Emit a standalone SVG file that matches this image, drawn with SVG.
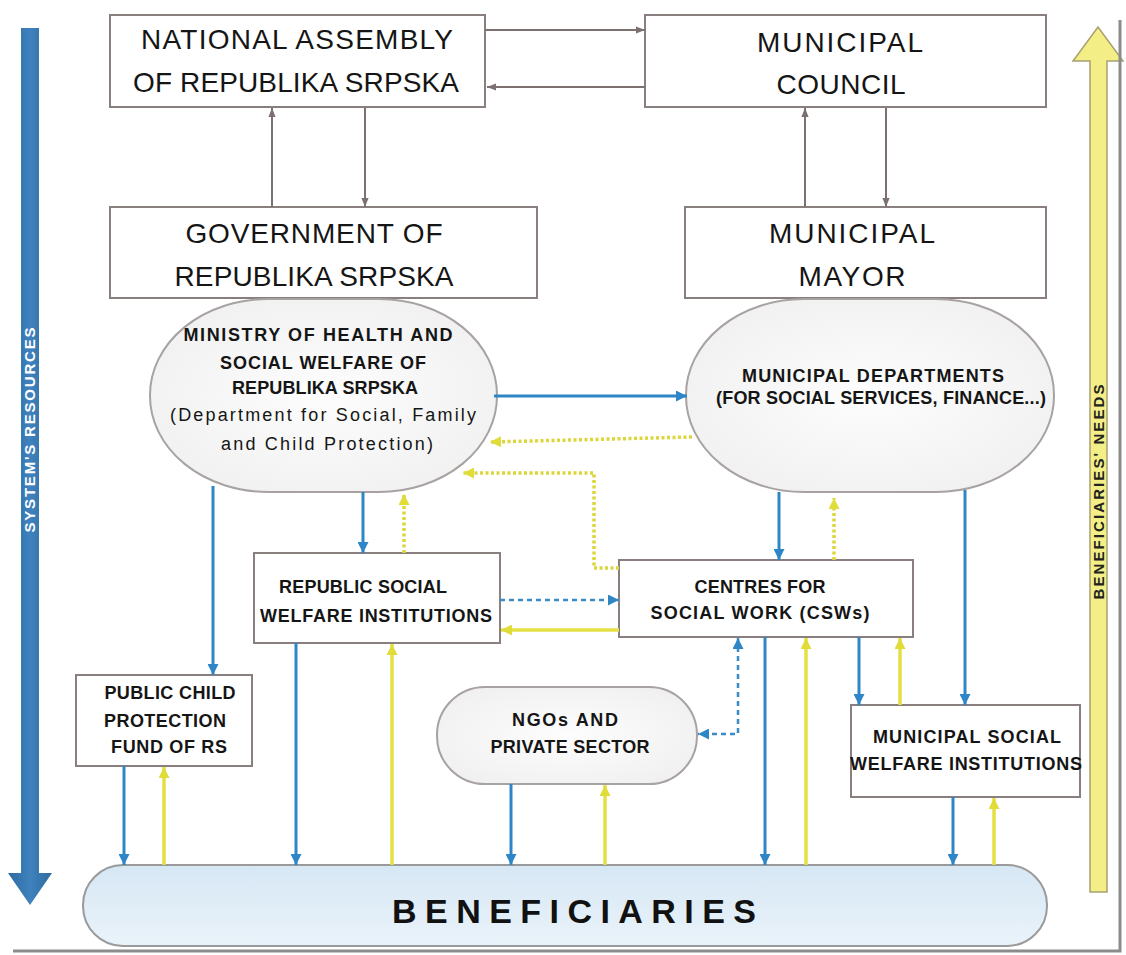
<svg xmlns="http://www.w3.org/2000/svg" width="1126" height="955" viewBox="0 0 1126 955">
<defs>
<style>
.box{fill:#fff;stroke:#8a7f7f;stroke-width:2}
.oval{fill:url(#gGrey);stroke:#a8a2a2;stroke-width:2}
.big{font-family:"Liberation Sans",Arial,sans-serif;font-size:28px;fill:#151515;text-anchor:middle}
.sm{font-family:"Liberation Sans",Arial,sans-serif;font-size:18px;font-weight:bold;fill:#151515;text-anchor:middle}
.reg{font-family:"Liberation Sans",Arial,sans-serif;font-size:18px;fill:#151515;text-anchor:middle}
.grey{fill:none;stroke:#7d7070;stroke-width:2;marker-end:url(#aG)}
.blue{fill:none;stroke:#2e86c6;stroke-width:3;marker-end:url(#aB)}
.bdash{fill:none;stroke:#3a8cc8;stroke-width:2.5;stroke-dasharray:5 4;marker-end:url(#aB)}
.yel{fill:none;stroke:#e4e044;stroke-width:3.5;marker-end:url(#aY)}
.ydot{fill:none;stroke:#dcd63a;stroke-width:3.5;stroke-dasharray:3 2.5;marker-end:url(#aY)}
</style>
<radialGradient id="gGrey" cx="0.5" cy="0.5" r="0.6">
<stop offset="0" stop-color="#fdfdfd"/><stop offset="1" stop-color="#f0f0f0"/>
</radialGradient>
<linearGradient id="gBen" x1="0" y1="0" x2="0" y2="1">
<stop offset="0" stop-color="#d6e7f4"/><stop offset="1" stop-color="#eaf3fa"/>
</linearGradient>
<linearGradient id="gLeft" x1="0" y1="0" x2="1" y2="0">
<stop offset="0" stop-color="#2f6aa0"/><stop offset="0.5" stop-color="#3f82bd"/><stop offset="1" stop-color="#2f6aa0"/>
</linearGradient>
<marker id="aG" viewBox="0 0 10 10" refX="10" refY="5" markerWidth="9" markerHeight="9" markerUnits="userSpaceOnUse" orient="auto-start-reverse"><path d="M0,1 L10,5 L0,9 z" fill="#7d7070"/></marker>
<marker id="aB" viewBox="0 0 10 10" refX="10" refY="5" markerWidth="11" markerHeight="11" markerUnits="userSpaceOnUse" orient="auto-start-reverse"><path d="M0,0 L10,5 L0,10 z" fill="#2e86c6"/></marker>
<marker id="aY" viewBox="0 0 10 10" refX="10" refY="5" markerWidth="11" markerHeight="11" markerUnits="userSpaceOnUse" orient="auto-start-reverse"><path d="M0,0 L10,5 L0,10 z" fill="#e0dc3a"/></marker>
</defs>
<rect x="0" y="0" width="1126" height="955" fill="#fff"/>

<g id="resources-arrow">
<polygon points="21,28 39,28 39,873 52,873 30,905 8,873 21,873" fill="url(#gLeft)"/>
<text transform="translate(35,430) rotate(-90)" font-family="'Liberation Sans',Arial,sans-serif" font-size="15" font-weight="bold" fill="#fff" text-anchor="middle" textLength="205" lengthAdjust="spacing">SYSTEM'S RESOURCES</text>
</g>

<g id="needs-arrow">
<polygon points="1090,892 1090,61 1073,61 1098,27 1123,61 1107,61 1107,892" fill="#f3ef86" stroke="#a8a070" stroke-width="1.5"/>
<text transform="translate(1104,492) rotate(-90)" font-family="'Liberation Sans',Arial,sans-serif" font-size="15" font-weight="bold" fill="#222" text-anchor="middle" textLength="215" lengthAdjust="spacing">BENEFICIARIES' NEEDS</text>
</g>

<g id="national-assembly">
<rect class="box" x="110" y="15" width="375" height="92"/>
<text class="big" x="297" y="49" textLength="312" lengthAdjust="spacing">NATIONAL ASSEMBLY</text>
<text class="big" x="296" y="92" textLength="326" lengthAdjust="spacing">OF REPUBLIKA SRPSKA</text>
</g>
<g id="municipal-council">
<rect class="box" x="645" y="15" width="401" height="92"/>
<text class="big" x="840" y="52" textLength="166" lengthAdjust="spacing">MUNICIPAL</text>
<text class="big" x="841" y="94" textLength="129" lengthAdjust="spacing">COUNCIL</text>
</g>
<g id="government">
<rect class="box" x="110" y="207" width="427" height="91"/>
<text class="big" x="314" y="243" textLength="257" lengthAdjust="spacing">GOVERNMENT OF</text>
<text class="big" x="314" y="286" textLength="279" lengthAdjust="spacing">REPUBLIKA SRPSKA</text>
</g>
<g id="municipal-mayor">
<rect class="box" x="685" y="207" width="361" height="91"/>
<text class="big" x="852" y="243" textLength="166" lengthAdjust="spacing">MUNICIPAL</text>
<text class="big" x="852" y="286" textLength="107" lengthAdjust="spacing">MAYOR</text>
</g>

<g id="ministry">
<rect class="oval" x="150" y="299" width="347" height="193" rx="118" ry="96"/>
<text class="sm" x="318" y="341" font-size="17" textLength="269" lengthAdjust="spacing">MINISTRY OF HEALTH AND</text>
<text class="sm" x="323" y="369" font-size="17" textLength="206" lengthAdjust="spacing">SOCIAL WELFARE OF</text>
<text class="sm" x="325" y="394" font-size="17" textLength="186" lengthAdjust="spacing">REPUBLIKA SRPSKA</text>
<text class="reg" x="323" y="421" textLength="306" lengthAdjust="spacing">(Department for Social, Family</text>
<text class="reg" x="327" y="450" textLength="212" lengthAdjust="spacing">and Child Protection)</text>
</g>
<g id="municipal-departments">
<rect class="oval" x="686" y="299" width="368" height="193" rx="118" ry="96"/>
<text class="sm" x="873" y="382" textLength="262" lengthAdjust="spacing">MUNICIPAL DEPARTMENTS</text>
<text class="sm" x="881" y="404" font-size="17" textLength="330" lengthAdjust="spacing">(FOR SOCIAL SERVICES, FINANCE...)</text>
</g>
<g id="republic-swi">
<rect class="box" x="254" y="553" width="246" height="90"/>
<text class="sm" x="363" y="593" textLength="168" lengthAdjust="spacing">REPUBLIC SOCIAL</text>
<text class="sm" x="376" y="622" textLength="232" lengthAdjust="spacing">WELFARE INSTITUTIONS</text>
</g>
<g id="csw">
<rect class="box" x="619" y="560" width="294" height="77"/>
<text class="sm" x="760" y="593" textLength="131" lengthAdjust="spacing">CENTRES FOR</text>
<text class="sm" x="760" y="619" textLength="219" lengthAdjust="spacing">SOCIAL WORK (CSWs)</text>
</g>
<g id="public-child-fund">
<rect class="box" x="76" y="675" width="176" height="91"/>
<text class="sm" x="170" y="699" textLength="131" lengthAdjust="spacing">PUBLIC CHILD</text>
<text class="sm" x="165" y="727" textLength="122" lengthAdjust="spacing">PROTECTION</text>
<text class="sm" x="169" y="753" textLength="116" lengthAdjust="spacing">FUND OF RS</text>
</g>
<g id="ngos">
<rect class="oval" x="437" y="687" width="260" height="97" rx="48" ry="48"/>
<text class="sm" x="565" y="726" textLength="106" lengthAdjust="spacing">NGOs AND</text>
<text class="sm" x="570" y="753" textLength="159" lengthAdjust="spacing">PRIVATE SECTOR</text>
</g>
<g id="municipal-swi">
<rect class="box" x="851" y="705" width="229" height="92"/>
<text class="sm" x="967" y="743" textLength="188" lengthAdjust="spacing">MUNICIPAL SOCIAL</text>
<text class="sm" x="966" y="770" textLength="232" lengthAdjust="spacing">WELFARE INSTITUTIONS</text>
</g>
<g id="beneficiaries">
<rect x="83" y="865" width="964" height="81" rx="40" ry="40" fill="url(#gBen)" stroke="#9a9a9a" stroke-width="2"/>
<text x="574" y="923" font-family="'Liberation Sans',Arial,sans-serif" font-size="34" font-weight="bold" fill="#111" text-anchor="middle" textLength="364" lengthAdjust="spacing">BENEFICIARIES</text>
</g>

<g id="connectors">
<path class="grey" d="M485,30 L645,30"/>
<path class="grey" d="M645,87 L487,87"/>
<path class="grey" d="M272,207 L272,108"/>
<path class="grey" d="M365,108 L365,207"/>
<path class="grey" d="M805,207 L805,108"/>
<path class="grey" d="M886,108 L886,207"/>

<path class="blue" d="M494,396 L687,396"/>
<path class="blue" d="M363,492 L363,553"/>
<path class="blue" d="M213,486 L213,675"/>
<path class="blue" d="M779,492 L779,560"/>
<path class="blue" d="M965,490 L965,705"/>
<path class="blue" d="M859,637 L859,705"/>
<path class="blue" d="M124,766 L124,865"/>
<path class="blue" d="M296,643 L296,865"/>
<path class="blue" d="M511,784 L511,865"/>
<path class="blue" d="M765,637 L765,865"/>
<path class="blue" d="M953,797 L953,865"/>

<path class="bdash" d="M500,600 L619,600"/>
<path class="bdash" d="M738,638 L738,734 L698,734" marker-start="url(#aB)"/>

<path class="yel" d="M619,630 L501,630"/>
<path class="yel" d="M164,865 L164,767"/>
<path class="yel" d="M392,865 L392,644"/>
<path class="yel" d="M605,865 L605,785"/>
<path class="yel" d="M806,865 L806,638"/>
<path class="yel" d="M900,705 L900,638"/>
<path class="yel" d="M994,865 L994,798"/>

<path class="ydot" d="M692,437 L490,442"/>
<path class="ydot" d="M619,568 L594,568 L594,473 L463,473"/>
<path class="ydot" d="M404,553 L404,494"/>
<path class="ydot" d="M834,560 L834,498"/>
</g>

<g id="frame">
<path d="M1120,20 L1120,951 L13,951" fill="none" stroke="#8c8c8c" stroke-width="3"/>
</g>
</svg>
